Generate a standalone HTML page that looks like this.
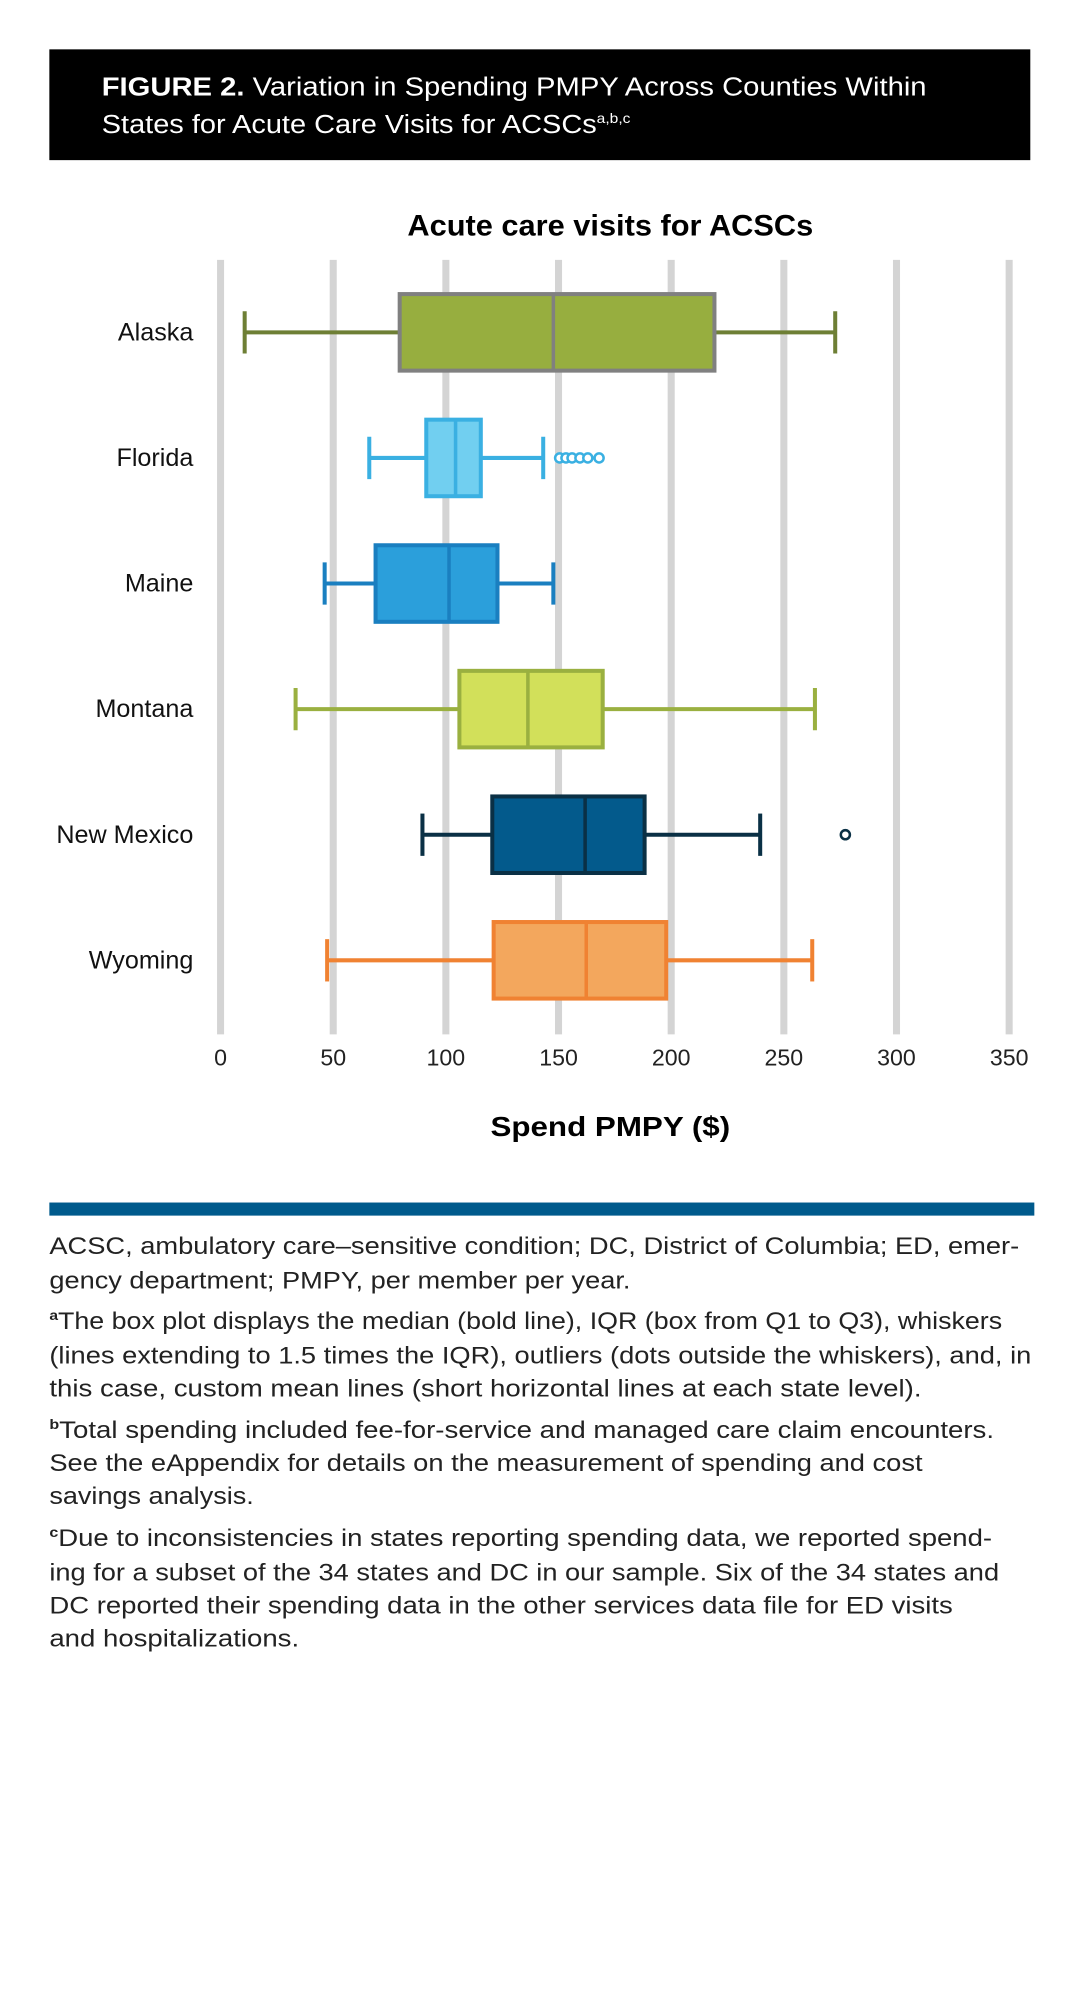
<!DOCTYPE html>
<html><head><meta charset="utf-8"><style>
html,body{margin:0;padding:0;background:#fff;}
svg{display:block;}
text{font-family:"Liberation Sans",sans-serif;}
</style></head><body>
<svg id="chart" width="1071" height="1989" viewBox="0 0 1071 1989" xmlns="http://www.w3.org/2000/svg">
<g transform="scale(1.00714)">
<rect x="49" y="49" width="974" height="110" fill="#000"/>
<text x="101" y="95" font-size="26" fill="#fff" textLength="819" lengthAdjust="spacingAndGlyphs"><tspan font-weight="bold">FIGURE 2.</tspan> Variation in Spending PMPY Across Counties Within</text>
<text x="101" y="132" font-size="26" fill="#fff" textLength="525" lengthAdjust="spacingAndGlyphs">States for Acute Care Visits for ACSCs<tspan font-size="14" dy="-10">a,b,c</tspan></text>
<text x="606" y="234" font-size="29" font-weight="bold" text-anchor="middle" fill="#000" textLength="403" lengthAdjust="spacingAndGlyphs">Acute care visits for ACSCs</text>
<g id="grid"></g>
<g id="boxes"></g>
<g id="labels"></g>
<text x="606" y="1128" font-size="28" font-weight="bold" text-anchor="middle" fill="#000" textLength="238" lengthAdjust="spacingAndGlyphs">Spend PMPY ($)</text>
<rect x="49" y="1194" width="978" height="13" fill="#005a8c"/>
<g id="notes" fill="#222" font-size="24"></g>
</g>
</svg>
<script>
const categories = ["Alaska","Florida","Maine","Montana","New Mexico","Wyoming"];
const whiskerLow = [10.7, 66, 46.2, 33.3, 89.6, 47.3];
const q1Values = [79.5, 91.3, 68.8, 106, 120.6, 121.2];
const medianValues = [147.7, 104.3, 101.4, 136.4, 161.8, 162.3];
const q3Values = [219.2, 115.5, 122.9, 169.6, 188.2, 197.8];
const whiskerHigh = [272.8, 143.2, 147.7, 263.8, 239.5, 262.6];
const outlierValues = [[], [150.5,153.3,156,159.5,163,168], [], [], [277.3], []];
const tickValues = [0,50,100,150,200,250,300,350];
const tickLabels = ["0","50","100","150","200","250","300","350"];

const fills = ["#97ae3f","#71cff0","#2b9fdb","#d2e05a","#035a8c","#f3a75d"];
const strokes = ["#808080","#3ab0e2","#1a7fc0","#9ab040","#0a3045","#f08232"];
const whiskerColors = ["#6e7f35","#3ab0e2","#1a7fc0","#9ab040","#0a3045","#f08232"];

const NS = "http://www.w3.org/2000/svg";
const x0 = 219, xPerUnit = (1002-219)/350;
function xScale(v){ return x0 + v*xPerUnit; }
const rowTop = 330, rowStep = 124.7;
function yScale(i){ return rowTop + i*rowStep; }
function mk(tag, attrs, parent){ const e=document.createElementNS(NS,tag); for(const k in attrs) e.setAttribute(k,attrs[k]); parent.appendChild(e); return e; }

const grid = document.getElementById("grid");
tickValues.forEach((v,i)=>{
  const l = mk("line",{x1:xScale(v),x2:xScale(v),y1:258,y2:1027,stroke:"#d4d4d4","stroke-width":7},grid);
  
  
  const t = mk("text",{x:xScale(v),y:1058,"font-size":23,"text-anchor":"middle",fill:"#222"},grid);
  t.textContent = tickLabels[i];
  
  
});

const boxes = document.getElementById("boxes");
const labels = document.getElementById("labels");
const bh = 76, cap = 42;
categories.forEach((c,i)=>{
  const cy = yScale(i);
  const g = mk("g",{},boxes);
  
  
  const wc = whiskerColors[i];
  mk("line",{x1:xScale(whiskerLow[i]),x2:xScale(q1Values[i]),y1:cy,y2:cy,stroke:wc,"stroke-width":4},g);
  mk("line",{x1:xScale(q3Values[i]),x2:xScale(whiskerHigh[i]),y1:cy,y2:cy,stroke:wc,"stroke-width":4},g);
  mk("line",{x1:xScale(whiskerLow[i]),x2:xScale(whiskerLow[i]),y1:cy-cap/2,y2:cy+cap/2,stroke:wc,"stroke-width":4},g);
  mk("line",{x1:xScale(whiskerHigh[i]),x2:xScale(whiskerHigh[i]),y1:cy-cap/2,y2:cy+cap/2,stroke:wc,"stroke-width":4},g);
  mk("rect",{x:xScale(q1Values[i]),y:cy-bh/2,width:xScale(q3Values[i])-xScale(q1Values[i]),height:bh,fill:fills[i],stroke:strokes[i],"stroke-width":4},g);
  mk("line",{x1:xScale(medianValues[i]),x2:xScale(medianValues[i]),y1:cy-bh/2,y2:cy+bh/2,stroke:strokes[i],"stroke-width":3.5},g);
  outlierValues[i].forEach(v=>{
    const o = mk("circle",{cx:xScale(v),cy:cy,r:4.5,fill:"#fff",stroke:wc,"stroke-width":2.5},g);
    
    
  });
  const t = mk("text",{x:192,y:cy+8,"font-size":25,"text-anchor":"end",fill:"#111"},labels);
  t.textContent = c;
  
  
});

const notes = [
 ["ACSC, ambulatory care\u2013sensitive condition; DC, District of Columbia; ED, emer-",982,1012,""],
 ["gency department; PMPY, per member per year.",1009,626,""],
 ["The box plot displays the median (bold line), IQR (box from Q1 to Q3), whiskers",1041,995,"a"],
 ["(lines extending to 1.5 times the IQR), outliers (dots outside the whiskers), and, in",1068,1024,""],
 ["this case, custom mean lines (short horizontal lines at each state level).",1094,915,""],
 ["Total spending included fee-for-service and managed care claim encounters.",1127,987,"b"],
 ["See the eAppendix for details on the measurement of spending and cost",1153,916,""],
 ["savings analysis.",1179,252,""],
 ["Due to inconsistencies in states reporting spending data, we reported spend-",1212,985,"c"],
 ["ing for a subset of the 34 states and DC in our sample. Six of the 34 states and",1239,992,""],
 ["DC reported their spending data in the other services data file for ED visits",1265,946,""],
 ["and hospitalizations.",1291,297,""]
];
const ng = document.getElementById("notes");
notes.forEach((n,i)=>{
  const t = mk("text",{x:49,y:n[1]*1.26+8,textLength:n[2]-49,lengthAdjust:"spacingAndGlyphs"},ng);
  if(n[3]){ const s=mk("tspan",{"font-size":14,dy:-9,"font-weight":"bold"},t); s.textContent=n[3]; const r=mk("tspan",{dy:9},t); r.textContent=n[0]; }
  else t.textContent = n[0];
  
  
});
</script>
</body></html>
